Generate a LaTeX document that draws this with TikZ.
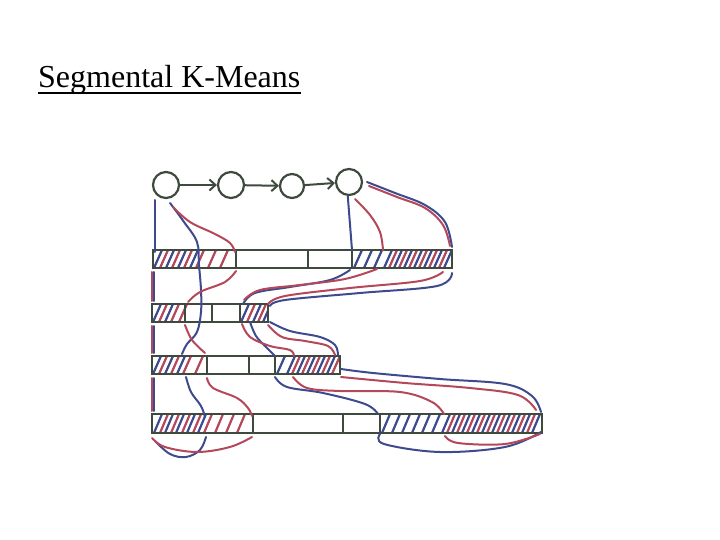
\documentclass[tikz,border=0pt]{standalone}
\usepackage{fontspec}
\setmainfont{Liberation Serif}
\usetikzlibrary{arrows.meta}
\definecolor{pen}{HTML}{3E4A3E}
\definecolor{bl}{HTML}{3D4A8E}
\definecolor{rd}{HTML}{B4485A}
\newcommand\hatchrow[4]{\foreach \hx in {#2} {\draw[#1] (\hx,#3) -- (\hx+8,#4);}}
\begin{document}
\begin{tikzpicture}[x=1pt,y=-1pt,
  bar/.style={draw=pen, line width=2.6pt},
  st/.style={circle, draw=pen, line width=2.2pt, inner sep=0pt},
  bcurve/.style={draw=bl, line width=2pt, line cap=round},
  rcurve/.style={draw=rd, line width=2pt, line cap=round},
  hb/.style={draw=bl, line width=2.2pt},
  hr/.style={draw=rd, line width=2.2pt},
  link/.style={draw=pen, line width=2pt, -{Straight Barb[length=6pt, width=11pt, line width=2pt]}}]
\useasboundingbox (0,0) rectangle (720,540);

% title
\node[inner sep=0pt, anchor=base west, font=\fontsize{32}{36}\selectfont] (title) at (38,88) {Segmental K-Means};
\draw[line width=1.4pt] ([yshift=-5pt]title.base west) -- ([yshift=-5pt]title.base east);

% states
\node[st, minimum size=26pt] (c1) at (166,185) {};
\node[st, minimum size=26pt] (c2) at (231,185) {};
\node[st, minimum size=24pt] (c3) at (292,186) {};
\node[st, minimum size=26pt] (c4) at (349,182) {};
\draw[link] (c1) -- (c2);
\draw[link] (c2) -- (c3);
\draw[link] (c3) -- (c4);

% hatching
\begin{scope}
\clip (153,250) rectangle (452,268);
\hatchrow{hb}{154,166,...,190}{268}{250}
\hatchrow{hr}{160,172,...,228}{268}{250}
\hatchrow{hb}{354,364,...,444}{268}{250}
\hatchrow{hr}{389,399,...,444}{268}{250}
\end{scope}
\begin{scope}
\clip (152,304) rectangle (268,322);
\hatchrow{hb}{153,165}{322}{304}
\hatchrow{hr}{159,171,179}{322}{304}
\hatchrow{hb}{241,253,263}{322}{304}
\hatchrow{hr}{247,258}{322}{304}
\end{scope}
\begin{scope}
\clip (152,356) rectangle (340,374);
\hatchrow{hb}{153,165,177}{374}{356}
\hatchrow{hr}{159,171,...,200}{374}{356}
\hatchrow{hb}{277,287,...,327}{374}{356}
\hatchrow{hr}{292,302,...,332}{374}{356}
\end{scope}
\begin{scope}
\clip (152,414) rectangle (542,433);
\hatchrow{hb}{154,165,...,198}{433}{414}
\hatchrow{hr}{160,171,...,245}{433}{414}
\hatchrow{hb}{382,392,...,532}{433}{414}
\hatchrow{hr}{447,457,...,532}{433}{414}
\end{scope}

% bars
\draw[bar] (153,250) rectangle (452,268);
\draw[bar] (236,250) -- (236,268) (308,250) -- (308,268) (352,250) -- (352,268);
\draw[bar] (152,304) rectangle (268,322);
\draw[bar] (185,304) -- (185,322) (212,304) -- (212,322) (240,304) -- (240,322);
\draw[bar] (152,356) rectangle (340,374);
\draw[bar] (207,356) -- (207,374) (249,356) -- (249,374) (275,356) -- (275,374);
\draw[bar] (152,414) rectangle (542,433);
\draw[bar] (253,414) -- (253,433) (343,414) -- (343,433) (380,414) -- (380,433);

% left edge lines
\draw[rcurve] (152,272) -- (152,301) (152,326) -- (152,353) (152,378) -- (152,411);
\draw[bcurve] (154,272) -- (154,301) (154,326) -- (154,353) (154,378) -- (154,411);
\coordinate (l1) at (155,200);
\draw[bcurve] (l1) -- (155,252);

% first state, blue
\draw[bcurve] plot[smooth, tension=0.6] coordinates {(170,203) (184,222) (197,242) (199,265) (201,290) (201,312) (197,332) (187,344) (182,354)};
\draw[bcurve] plot[smooth, tension=0.6] coordinates {(186,377) (191,392) (201,406) (205,417)};
\draw[bcurve] plot[smooth, tension=0.6] coordinates {(206,437) (200,450) (186,457) (170,454) (155,441)};
% first state, red
\draw[rcurve] plot[smooth, tension=0.6] coordinates {(173,207) (190,222) (215,234) (230,243) (235,252)};
\draw[rcurve] plot[smooth, tension=0.6] coordinates {(236,271) (225,282) (200,292) (188,302)};
\draw[rcurve] plot[smooth, tension=0.6] coordinates {(185,325) (192,340) (205,353)};
\draw[rcurve] plot[smooth, tension=0.6] coordinates {(207,378) (213,388) (237,398) (248,408) (252,416)};
\draw[rcurve] plot[smooth, tension=0.6] coordinates {(252,437) (230,447) (197,452) (165,447) (152,438)};

% last state, top
\draw[bcurve] (c4.265) -- (352,250);
\draw[rcurve] plot[smooth, tension=0.6] coordinates {(355,199) (370,215) (380,232) (383,250)};
\draw[bcurve] plot[smooth, tension=0.6] coordinates {(367,182) (395,193) (425,205) (445,222) (452,247)};
\draw[rcurve] plot[smooth, tension=0.6] coordinates {(369,186) (397,197) (425,208) (443,225) (450,246)};

% bar1 -> bar2
\draw[bcurve] plot[smooth, tension=0.6] coordinates {(350,270) (330,280) (290,287) (255,293) (243,304)};
\draw[rcurve] plot[smooth, tension=0.6] coordinates {(377,269) (345,279) (300,285) (260,290) (244,300)};
\draw[rcurve] plot[smooth, tension=0.6] coordinates {(443,272) (420,281) (350,288) (285,296) (268,304)};
\draw[bcurve] plot[smooth, tension=0.6] coordinates {(452,273) (437,286) (360,293) (285,300) (270,306)};

% bar2 -> bar3
\draw[bcurve] plot[smooth, tension=0.6] coordinates {(250,322) (256,336) (266,347) (275,356)};
\draw[rcurve] plot[smooth, tension=0.6] coordinates {(242,324) (250,337) (270,346) (290,350) (294,356)};
\draw[bcurve] plot[smooth, tension=0.6] coordinates {(270,322) (290,331) (320,337) (335,345) (338,355)};
\draw[rcurve] plot[smooth, tension=0.6] coordinates {(268,325) (282,337) (305,341) (328,346) (335,355)};

% bar3 -> bar4
\draw[bcurve] plot[smooth, tension=0.6] coordinates {(275,377) (287,387) (323,393) (365,404) (378,414)};
\draw[rcurve] plot[smooth, tension=0.6] coordinates {(293,377) (307,388) (340,391) (400,392) (432,402) (444,414)};
\draw[bcurve] plot[smooth, tension=0.6] coordinates {(341,369) (373,373) (440,379) (505,384) (532,396) (541,412)};
\draw[rcurve] plot[smooth, tension=0.6] coordinates {(341,377) (405,383) (470,388) (518,395) (536,410)};

% below bar4
\draw[bcurve] plot[smooth, tension=0.6] coordinates {(380,434) (384,444) (440,452) (505,447) (541,432)};
\draw[rcurve] plot[smooth, tension=0.6] coordinates {(445,436) (458,443) (505,444) (540,434)};
\end{tikzpicture}
\end{document}
